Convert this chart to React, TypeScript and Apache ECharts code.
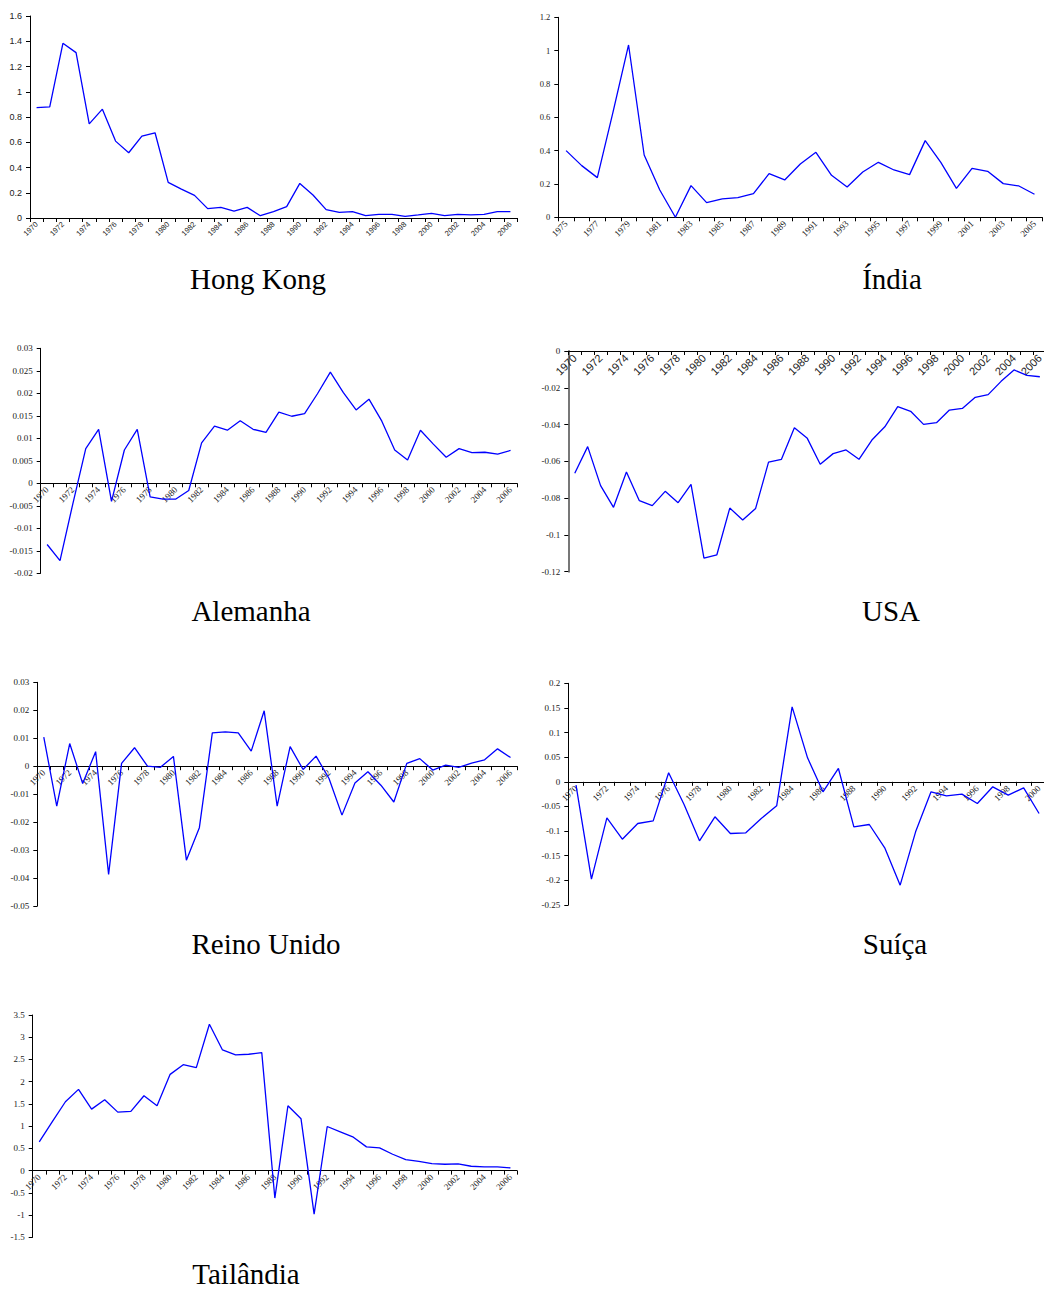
import React, { useEffect, useRef } from "react";
import * as echarts from "echarts";

const YEARS_1970_2006 = [
  "1970", "1971", "1972", "1973", "1974", "1975", "1976", "1977", "1978", "1979",
  "1980", "1981", "1982", "1983", "1984", "1985", "1986", "1987", "1988", "1989",
  "1990", "1991", "1992", "1993", "1994", "1995", "1996", "1997", "1998", "1999",
  "2000", "2001", "2002", "2003", "2004", "2005", "2006",
];
const YEARS_1975_2005 = [
  "1975", "1976", "1977", "1978", "1979", "1980", "1981", "1982", "1983", "1984",
  "1985", "1986", "1987", "1988", "1989", "1990", "1991", "1992", "1993", "1994",
  "1995", "1996", "1997", "1998", "1999", "2000", "2001", "2002", "2003", "2004", "2005",
];
const YEARS_1970_2000 = YEARS_1970_2006.slice(0, 31);

const hongKong = [
  0.875, 0.88, 1.384, 1.31, 0.746, 0.862, 0.609, 0.517, 0.648, 0.675,
  0.282, 0.229, 0.179, 0.074, 0.084, 0.055, 0.084, 0.018, 0.05, 0.09,
  0.274, 0.182, 0.066, 0.045, 0.05, 0.018, 0.029, 0.029, 0.013, 0.024,
  0.037, 0.018, 0.029, 0.024, 0.029, 0.05, 0.05,
];
const india = [
  0.40, 0.31, 0.238, 0.63, 1.034, 0.374, 0.164, 0.0, 0.19, 0.088,
  0.11, 0.118, 0.142, 0.262, 0.224, 0.32, 0.39, 0.252, 0.182, 0.272,
  0.33, 0.284, 0.256, 0.46, 0.33, 0.174, 0.294, 0.276, 0.202, 0.188, 0.138,
];
const alemanha = [
  -0.0136, -0.0172, -0.0045, 0.0077, 0.012, -0.004, 0.0074, 0.012, -0.003, -0.0035,
  -0.0035, -0.0016, 0.009, 0.0127, 0.0118, 0.0139, 0.012, 0.0113, 0.0158, 0.0149,
  0.0155, 0.0199, 0.0247, 0.0202, 0.0163, 0.0187, 0.0138, 0.0074, 0.0052, 0.0118,
  0.0087, 0.0058, 0.0077, 0.0068, 0.0069, 0.0065, 0.0073,
];
const usa = [
  -0.0665, -0.052, -0.0732, -0.085, -0.0658, -0.0814, -0.0841, -0.0763, -0.0825, -0.0725,
  -0.1126, -0.1108, -0.0854, -0.0919, -0.0856, -0.0604, -0.0589, -0.0417, -0.0475, -0.0616,
  -0.0558, -0.0538, -0.0589, -0.0484, -0.0412, -0.0303, -0.0328, -0.0399, -0.039, -0.0321,
  -0.0312, -0.0252, -0.0237, -0.0165, -0.0103, -0.0132, -0.014,
];
const reinoUnido = [
  0.0104, -0.0143, 0.0081, -0.0062, 0.0052, -0.0387, 0.001, 0.0066, 0.0, -0.0004,
  0.0035, -0.0336, -0.022, 0.0119, 0.0123, 0.0119, 0.0054, 0.0198, -0.0143, 0.007,
  -0.0012, 0.0036, -0.0044, -0.0175, -0.006, -0.002, -0.0068, -0.0128, 0.001, 0.0027,
  -0.0014, 0.0004, -0.0004, 0.0011, 0.0023, 0.0062, 0.0031,
];
const suica = [
  -0.0068, -0.1976, -0.073, -0.1164, -0.0846, -0.0792, 0.0183, -0.046, -0.1198, -0.071,
  -0.1049, -0.1035, -0.0744, -0.0487, 0.1522, 0.0487, -0.0203, 0.0271, -0.0913, -0.0866,
  -0.134, -0.2097, -0.1015, -0.0203, -0.0284, -0.025, -0.044, -0.0101, -0.027, -0.0122,
  -0.0643,
];
const tailandia = [
  0.647, 1.1, 1.549, 1.827, 1.383, 1.594, 1.316, 1.331, 1.684, 1.459,
  2.165, 2.383, 2.316, 3.293, 2.714, 2.602, 2.617, 2.654, -0.617, 1.459,
  1.165, -0.977, 0.992, 0.872, 0.752, 0.534, 0.511, 0.368, 0.248, 0.21,
  0.158, 0.143, 0.15, 0.098, 0.083, 0.083, 0.06,
];

const SANS = '"Liberation Sans", Arial, sans-serif';
const SERIF = '"Liberation Serif", "Times New Roman", serif';

type Panel = {
  title: string;
  cats: string[];
  values: number[];
  min: number;
  max: number;
  interval: number;
  left: number;
  top: number;
  width: number;
  height: number;
  titleX: number;
  titleY: number;
  xFont: string;
  xSize: number;
  yFont: string;
  ySize: number;
  yAxisColor?: string;
  yAxisWidth?: number;
};

const panels: Panel[] = [
  { title: "Hong Kong", cats: YEARS_1970_2006, values: hongKong, min: 0, max: 1.6, interval: 0.2,
    left: 30, top: 16, width: 487, height: 202, titleX: 258, titleY: 279,
    xFont: SANS, xSize: 7.5, yFont: SANS, ySize: 9 },
  { title: "Índia", cats: YEARS_1975_2005, values: india, min: 0, max: 1.2, interval: 0.2,
    left: 558.3, top: 17.3, width: 484, height: 200, titleX: 892, titleY: 279,
    xFont: SERIF, xSize: 9, yFont: SERIF, ySize: 8.5 },
  { title: "Alemanha", cats: YEARS_1970_2006, values: alemanha, min: -0.02, max: 0.03, interval: 0.005,
    left: 40.7, top: 348.3, width: 476.3, height: 225, titleX: 251, titleY: 611,
    xFont: SERIF, xSize: 9, yFont: SERIF, ySize: 9 },
  { title: "USA", cats: YEARS_1970_2006, values: usa, min: -0.12, max: 0, interval: 0.02,
    left: 568.3, top: 351, width: 478, height: 220.7, titleX: 891, titleY: 611,
    xFont: SANS, xSize: 11, yFont: SERIF, ySize: 9, yAxisColor: "#777", yAxisWidth: 2 },
  { title: "Reino Unido", cats: YEARS_1970_2006, values: reinoUnido, min: -0.05, max: 0.03, interval: 0.01,
    left: 37.3, top: 682.3, width: 479.7, height: 223.7, titleX: 266, titleY: 944,
    xFont: SERIF, xSize: 9, yFont: SERIF, ySize: 9 },
  { title: "Suíça", cats: YEARS_1970_2000, values: suica, min: -0.25, max: 0.2, interval: 0.05,
    left: 568.3, top: 683.3, width: 478.5, height: 221.7, titleX: 895, titleY: 944,
    xFont: SERIF, xSize: 9, yFont: SERIF, ySize: 9 },
  { title: "Tailândia", cats: YEARS_1970_2006, values: tailandia, min: -1.5, max: 3.5, interval: 0.5,
    left: 32.7, top: 1015, width: 484.3, height: 222.3, titleX: 246, titleY: 1274,
    xFont: SERIF, xSize: 9, yFont: SERIF, ySize: 9 },
];

const fmt = (v: number) => String(Math.round(v * 100000) / 100000);

export default function App() {
  const ref = useRef<HTMLDivElement>(null);
  useEffect(() => {
    if (!ref.current) return;
    const chart = echarts.init(ref.current, undefined, { renderer: "svg" });
    const option: any = {
      animation: false,
      backgroundColor: "#fff",
      grid: panels.map((p) => ({
        left: p.left,
        top: p.top,
        width: p.width,
        height: p.height,
        containLabel: false,
        outerBoundsMode: "none",
      })),
      xAxis: panels.map((p, i) => ({
        type: "category",
        gridIndex: i,
        position: "bottom",
        // place the whole axis (line, ticks, labels) on the zero line
        offset: -(p.height * (0 - p.min)) / (p.max - p.min),
        data: p.cats,
        boundaryGap: true,
        axisLine: { show: true, onZero: false, lineStyle: { color: "#000", width: 1 } },
        axisTick: { show: true, interval: 0, length: 4, lineStyle: { color: "#000", width: 1 } },
        axisLabel: {
          interval: 1,
          rotate: 45,
          margin: 5,
          fontSize: p.xSize,
          fontFamily: p.xFont,
          color: "#222",
        },
        splitLine: { show: false },
      })),
      yAxis: panels.map((p, i) => ({
        type: "value",
        gridIndex: i,
        min: p.min,
        max: p.max,
        interval: p.interval,
        axisLine: {
          show: true,
          onZero: false,
          lineStyle: { color: p.yAxisColor || "#000", width: p.yAxisWidth || 1 },
        },
        axisTick: { show: true, length: 4, lineStyle: { color: "#000", width: 1 } },
        axisLabel: {
          margin: 8,
          fontSize: p.ySize,
          fontFamily: p.yFont,
          color: "#222",
          formatter: fmt,
        },
        splitLine: { show: false },
      })),
      series: panels.map((p, i) => ({
        type: "line",
        xAxisIndex: i,
        yAxisIndex: i,
        data: p.values,
        showSymbol: false,
        symbol: "none",
        lineStyle: { color: "#0000ff", width: 1.3 },
        itemStyle: { color: "#0000ff" },
        z: 3,
      })),
      graphic: panels.map((p) => ({
        type: "text",
        x: p.titleX,
        y: p.titleY,
        style: {
          text: p.title,
          font: `29px ${SERIF}`,
          fill: "#000",
          textAlign: "center",
          textVerticalAlign: "middle",
        },
      })),
    };
    chart.setOption(option);
    return () => chart.dispose();
  }, []);
  return (
    <div
      ref={ref}
      style={{ position: "absolute", left: 0, top: 0, width: 1044, height: 1290 }}
    />
  );
}
